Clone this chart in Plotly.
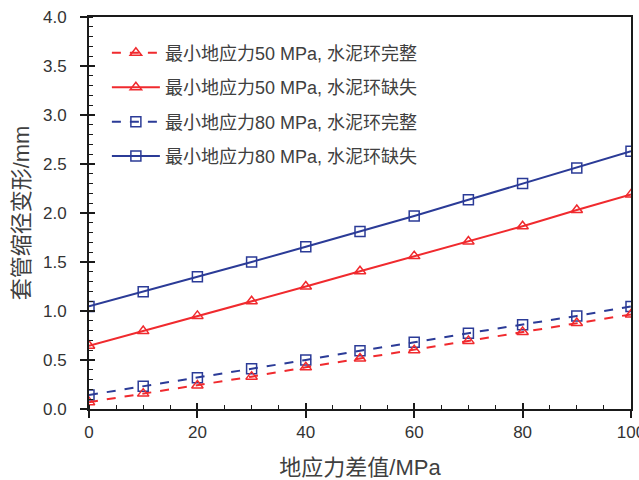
import plotly.graph_objects as go

x_vals = [0, 10, 20, 30, 40, 50, 60, 70, 80, 90, 100]
red_intact = [0.07, 0.157, 0.24, 0.33, 0.425, 0.515, 0.60, 0.695, 0.785, 0.877, 0.965]
red_missing = [0.645, 0.795, 0.95, 1.10, 1.25, 1.405, 1.56, 1.71, 1.865, 2.03, 2.19]
blue_intact = [0.143, 0.232, 0.32, 0.41, 0.50, 0.595, 0.68, 0.774, 0.86, 0.95, 1.047]
blue_missing = [1.047, 1.197, 1.35, 1.50, 1.655, 1.81, 1.97, 2.135, 2.30, 2.46, 2.63]

names = ["最小地应力50 MPa, 水泥环完整", "最小地应力50 MPa, 水泥环缺失",
         "最小地应力80 MPa, 水泥环完整", "最小地应力80 MPa, 水泥环缺失"]

RED = "#f02a2e"
BLUE = "#2b3b97"

series = [
    (red_intact, RED, "dash", "triangle-up-open"),
    (red_missing, RED, "solid", "triangle-up-open"),
    (blue_intact, BLUE, "dash", "square-open"),
    (blue_missing, BLUE, "solid", "square-open"),
]

fig = go.Figure()
for i, (ys, col, dash, sym) in enumerate(series):
    fig.add_trace(go.Scatter(
        x=x_vals, y=ys, name=names[i], mode="lines+markers",
        line=dict(color=col, width=2, dash=dash),
        marker=dict(symbol=sym, size=10, color=col, line=dict(width=1.5, color=col)),
        legendgroup=f"g{i}",
        xaxis="x2" if i == 0 else "x", yaxis="y2" if i == 0 else "y",
    ))

FONT = "Liberation Sans, Arial, Noto Sans CJK SC, sans-serif"
tickfont = dict(family=FONT, size=17, color="#333333")
titlefont = dict(family=FONT, size=22, color="#404040")

fig.update_layout(
    width=639, height=480,
    margin=dict(l=89, r=8, t=17, b=71),
    paper_bgcolor="white", plot_bgcolor="white",
    showlegend=True,
    legend=dict(x=0.033, y=0.955, xanchor="left", yanchor="top",
                bgcolor="rgba(0,0,0,0)", traceorder="grouped", tracegroupgap=8,
                font=dict(family=FONT, size=18, color="#404040"),
                itemwidth=48),
    xaxis=dict(range=[0, 100], dtick=20, tick0=0, showgrid=False, zeroline=False,
               showline=True, linecolor="#1a1a1a", linewidth=2, mirror=True,
               ticks="outside", ticklen=7, tickwidth=1.5, tickcolor="#1a1a1a",
               minor=dict(dtick=5, ticks="inside", ticklen=4, tickwidth=1, tickcolor="#1a1a1a"),
               tickfont=tickfont, ticklabeloverflow="allow", automargin=False,
               title=dict(text="地应力差值/MPa", font=titlefont, standoff=18)),
    yaxis=dict(range=[0, 4], dtick=0.5, tick0=0, tickformat=".1f", showgrid=False, zeroline=False,
               showline=True, linecolor="#1a1a1a", linewidth=2, mirror=True,
               ticks="outside", ticklen=7, tickwidth=1.5, tickcolor="#1a1a1a",
               minor=dict(dtick=0.1, ticks="inside", ticklen=4, tickwidth=1, tickcolor="#1a1a1a"),
               tickfont=tickfont, ticklabelstandoff=10, automargin=False,
               title=dict(text="套管缩径变形/mm", font=titlefont, standoff=7)),
    xaxis2=dict(range=[0, 100], dtick=20, tick0=0, overlaying="x", side="bottom",
                showgrid=False, zeroline=False, showline=False, showticklabels=False,
                ticks="inside", ticklen=6, tickwidth=1.5, tickcolor="#1a1a1a"),
    yaxis2=dict(range=[0, 4], dtick=0.5, tick0=0, overlaying="y", side="left",
                showgrid=False, zeroline=False, showline=False, showticklabels=False,
                ticks="inside", ticklen=6, tickwidth=1.5, tickcolor="#1a1a1a"),
)

fig.write_html("out.html")
